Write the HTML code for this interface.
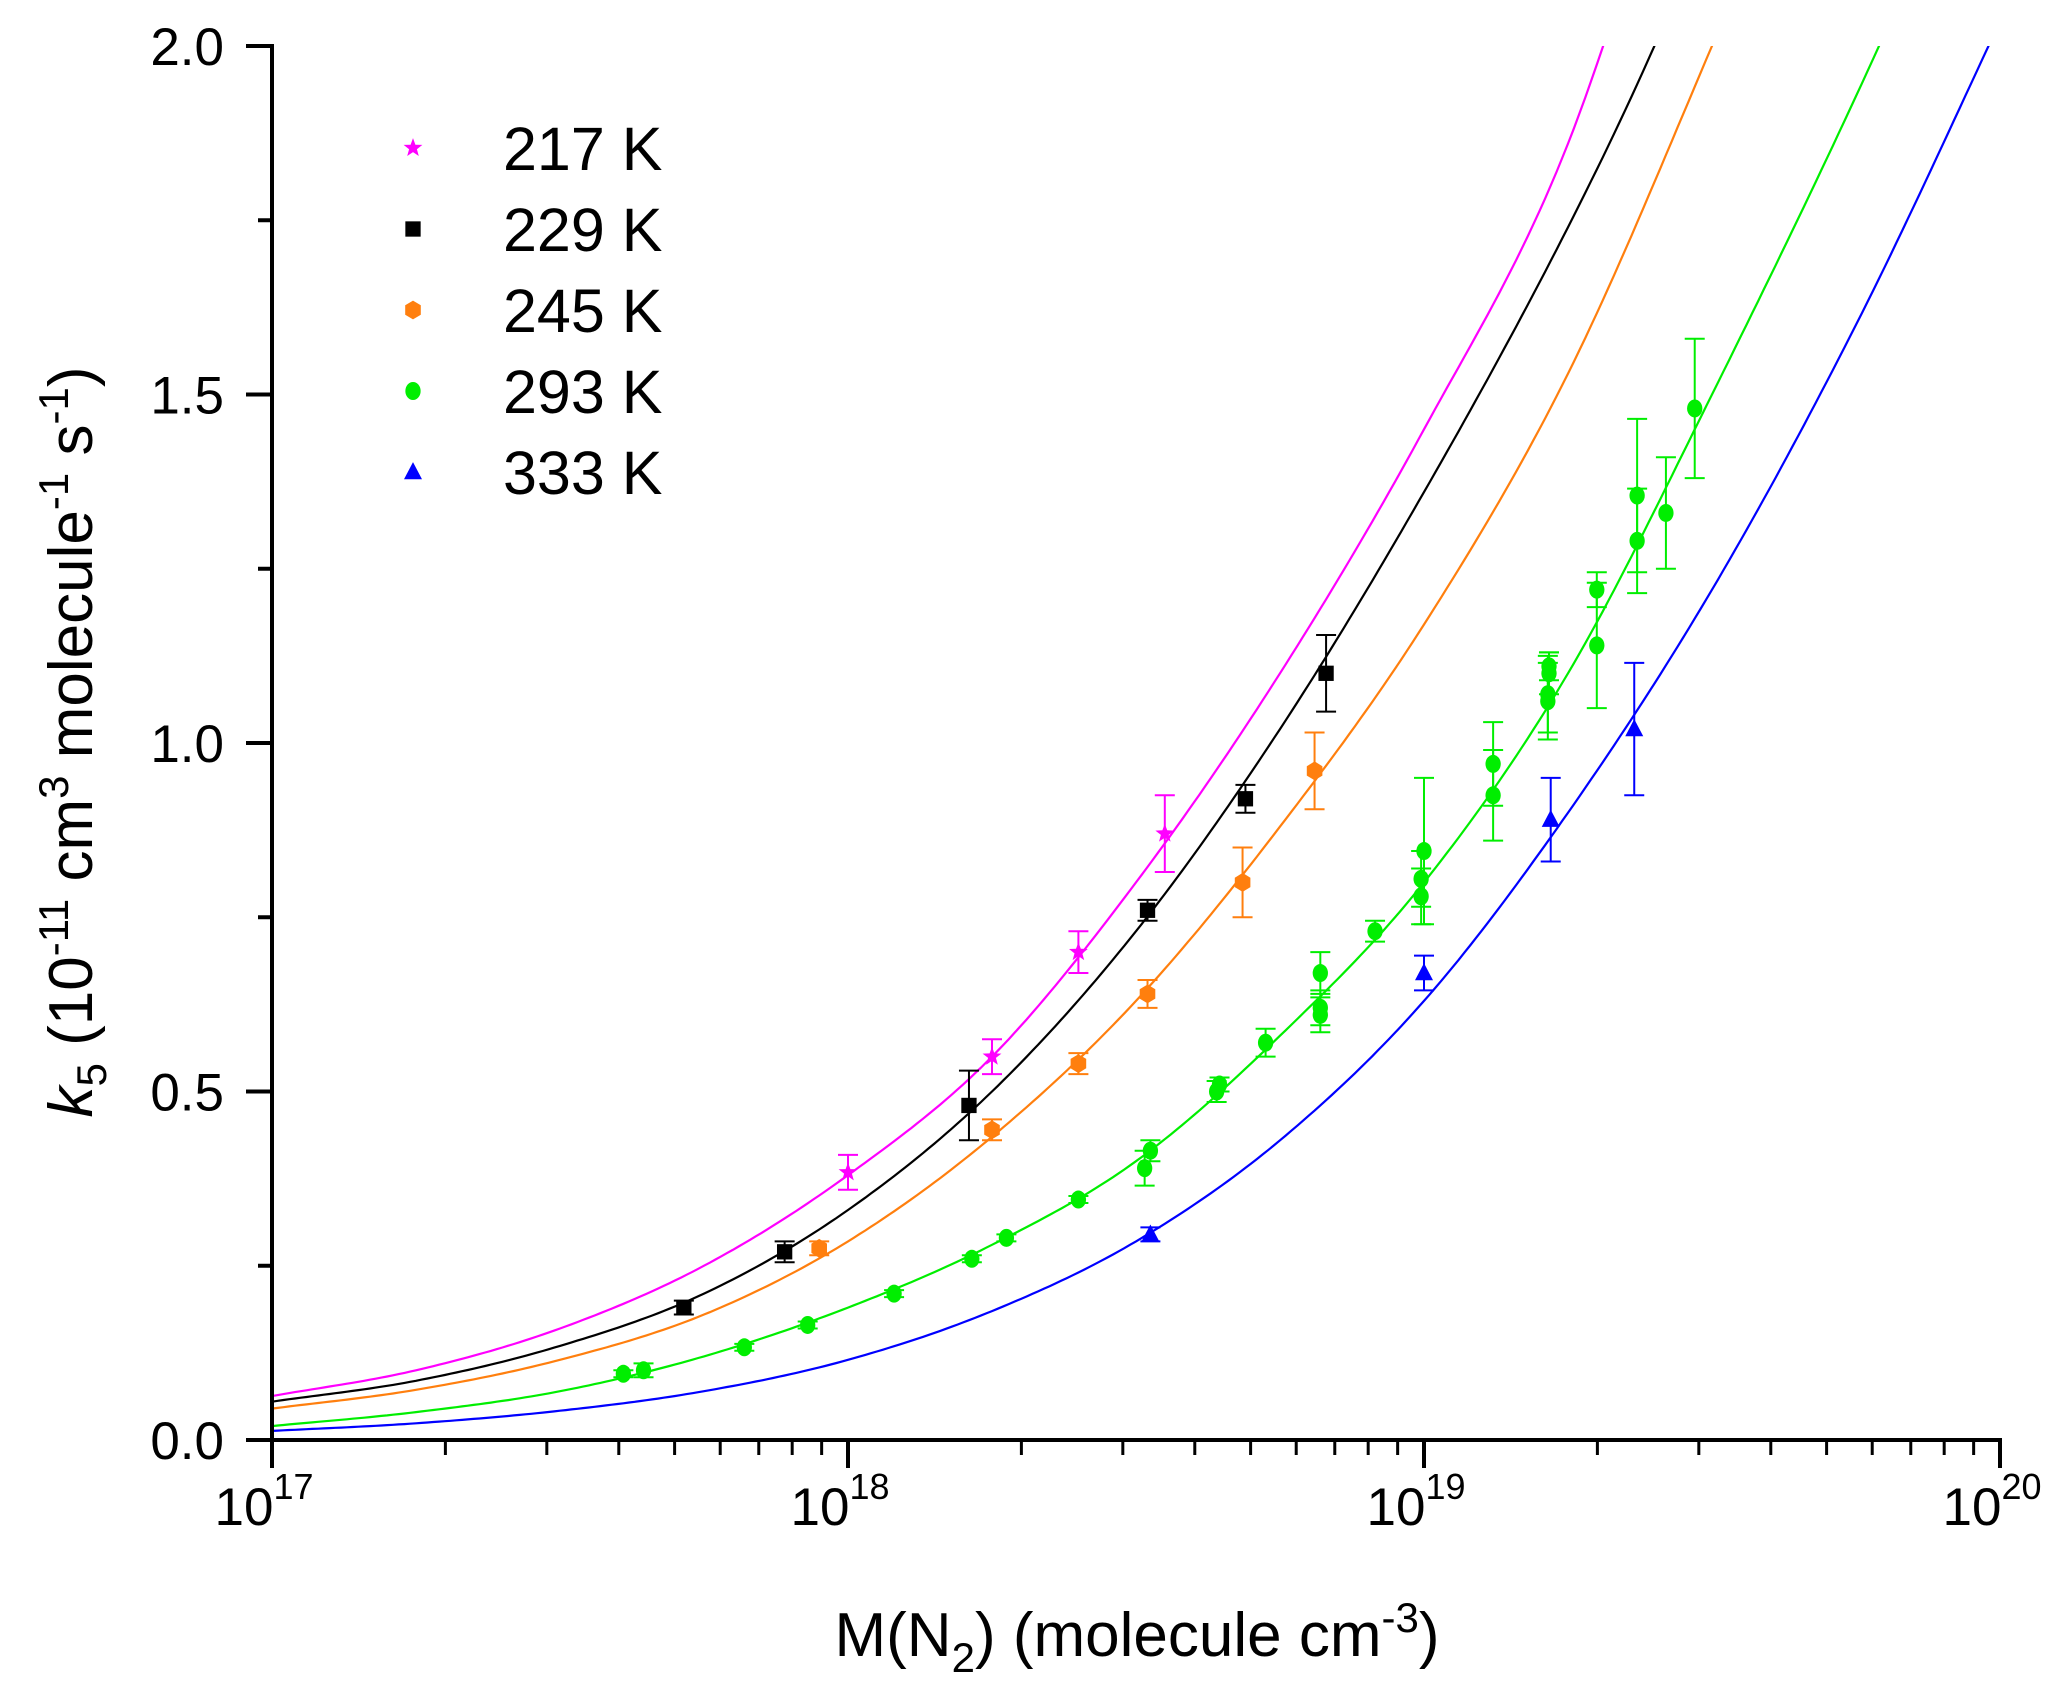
<!DOCTYPE html>
<html><head><meta charset="utf-8"><style>
body{margin:0;background:#fff}
svg text{font-family:"Liberation Sans",Arial,sans-serif;fill:#000}
</style></head><body>
<svg id="chart" width="2067" height="1701" viewBox="0 0 2067 1701" xmlns="http://www.w3.org/2000/svg">
<defs><clipPath id="plotclip"><rect x="272" y="46" width="1730" height="1394"/></clipPath></defs>
<g id="curves" clip-path="url(#plotclip)"></g>
<g id="points"></g>
<g id="axes"></g>
<g id="legend"></g>
<text transform="translate(92,742) rotate(-90)" text-anchor="middle" font-size="62"><tspan font-style="italic">k</tspan><tspan font-size="42" dy="14">5</tspan><tspan dy="-14"> (10</tspan><tspan font-size="42" dy="-24">-11</tspan><tspan dy="24"> cm</tspan><tspan font-size="42" dy="-24">3</tspan><tspan dy="24"> molecule</tspan><tspan font-size="42" dy="-24">-1</tspan><tspan dy="24"> s</tspan><tspan font-size="42" dy="-24">-1</tspan><tspan dy="24">)</tspan></text>
<text x="1137" y="1656" text-anchor="middle" font-size="62">M(N<tspan font-size="42" dy="16">2</tspan><tspan dy="-16">) (molecule cm</tspan><tspan font-size="42" dy="-24">-3</tspan><tspan dy="24">)</tspan></text>
</svg>
<script>
const NS="http://www.w3.org/2000/svg";
const series=["217 K","229 K","245 K","293 K","333 K"];
const colors=["#ff00ff","#000000","#ff7f0e","#00ee00","#0000ff"];
const shapes=["star","square","hexagon","circle","triangle"];
// fit curves (log10 M, k)
const curveLogM=[
[17,17.25,17.5,17.75,18,18.25,18.5,18.75,19,19.25,19.5],
[17,17.25,17.5,17.75,18,18.25,18.5,18.75,19,19.25,19.4,19.6],
[17,17.25,17.5,17.75,18,18.25,18.5,18.75,19,19.25,19.5,19.7],
[17,17.25,17.5,17.75,18,18.25,18.5,18.75,19,19.25,19.5,19.79,20],
[17,17.25,17.5,17.75,18,18.25,18.5,18.75,19,19.25,19.5,19.75,19.98,20.2]];
const curveK=[
[0.063,0.10,0.16,0.25,0.38,0.55,0.80,1.10,1.45,1.86,2.5],
[0.055,0.085,0.135,0.21,0.33,0.50,0.73,1.02,1.36,1.74,2.0,2.4],
[0.045,0.072,0.115,0.18,0.285,0.435,0.63,0.88,1.17,1.53,2.0,2.4],
[0.02,0.04,0.07,0.12,0.19,0.28,0.40,0.58,0.80,1.10,1.50,2.0,2.4],
[0.013,0.024,0.042,0.07,0.115,0.185,0.285,0.43,0.63,0.90,1.22,1.60,2.0,2.4]];
// data (log10 M, k, error)
const dataLogM=[
[18.0,18.25,18.40,18.55],
[17.715,17.89,18.21,18.52,18.69,18.83],
[17.95,18.25,18.40,18.52,18.685,18.81],
[17.61,17.645,17.82,17.93,18.08,18.215,18.275,18.40,18.515,18.525,18.64,18.645,18.725,18.82,18.82,18.82,18.915,18.995,18.995,19.0,19.12,19.12,19.215,19.215,19.217,19.217,19.30,19.30,19.37,19.37,19.42,19.47],
[18.525,19.0,19.22,19.365]];
const dataK=[
[0.384,0.55,0.70,0.87],
[0.19,0.27,0.48,0.76,0.92,1.10],
[0.275,0.445,0.54,0.64,0.80,0.96],
[0.095,0.10,0.133,0.165,0.21,0.26,0.29,0.345,0.39,0.415,0.50,0.51,0.57,0.61,0.62,0.67,0.73,0.78,0.805,0.845,0.925,0.97,1.06,1.07,1.10,1.11,1.14,1.22,1.29,1.355,1.33,1.48],
[0.295,0.67,0.89,1.02]];
const dataErr=[
[0.025,0.025,0.03,0.055],
[0.01,0.015,0.05,0.015,0.02,0.055],
[0.01,0.015,0.015,0.02,0.05,0.055],
[0.005,0.01,0.005,0.005,0.005,0.005,0.005,0.005,0.025,0.015,0.015,0.01,0.02,0.025,0.025,0.03,0.015,0.04,0.04,0.105,0.065,0.06,0.055,0.055,0.03,0.02,0.09,0.025,0.075,0.11,0.08,0.10],
[0.01,0.025,0.06,0.095]];
const xTicks=[17,18,19,20];
const yTicks=[0,0.5,1.0,1.5,2.0];
const yTickLabels=["0.0","0.5","1.0","1.5","2.0"];

const X0=272,X1=2000,Y0=1440,Y1=46;
const xs=l=>X0+(l-17)/3*(X1-X0);
const ys=v=>Y0-v/2*(Y0-Y1);
function el(t,a,p){const e=document.createElementNS(NS,t);for(const k in a)e.setAttribute(k,a[k]);p.appendChild(e);return e;}

function mono(xa,ya){const n=xa.length,d=[],m=[];for(let i=0;i<n-1;i++)d.push((ya[i+1]-ya[i])/(xa[i+1]-xa[i]));
m[0]=d[0];m[n-1]=d[n-2];for(let i=1;i<n-1;i++)m[i]=d[i-1]*d[i]<=0?0:(d[i-1]+d[i])/2;
return x=>{let i=0;while(i<n-2&&x>xa[i+1])i++;const h=xa[i+1]-xa[i],t=(x-xa[i])/h,t2=t*t,t3=t2*t;
return (2*t3-3*t2+1)*ya[i]+(t3-2*t2+t)*h*m[i]+(-2*t3+3*t2)*ya[i+1]+(t3-t2)*h*m[i+1];};}

const cg=document.getElementById('curves');
series.forEach((s,si)=>{const f=mono(curveLogM[si],curveK[si]);const xa=curveLogM[si];let d="";
for(let l=xa[0];l<=xa[xa.length-1]+1e-9;l+=0.01){d+=(d?"L":"M")+xs(l).toFixed(1)+","+ys(f(l)).toFixed(1);}
const p=el('path',{d:d,fill:'none',stroke:colors[si],'stroke-width':2.2},cg);

});

function marker(shape,cx,cy,col,g,r){
 if(shape==="star"){let pts=[];for(let i=0;i<10;i++){const a=-Math.PI/2+i*Math.PI/5,rr=i%2?r*0.45:r*1.1;pts.push((cx+rr*Math.cos(a)).toFixed(1)+","+(cy+rr*Math.sin(a)).toFixed(1));}return el('polygon',{points:pts.join(" "),fill:col},g);}
 if(shape==="square")return el('rect',{x:cx-r*0.85,y:cy-r*0.85,width:r*1.7,height:r*1.7,fill:col},g);
 if(shape==="hexagon"){let pts=[];for(let i=0;i<6;i++){const a=-Math.PI/2+i*Math.PI/3;pts.push((cx+r*Math.cos(a)).toFixed(1)+","+(cy+r*1.05*Math.sin(a)).toFixed(1));}return el('polygon',{points:pts.join(" "),fill:col},g);}
 if(shape==="circle")return el('ellipse',{cx:cx,cy:cy,rx:r*0.85,ry:r,fill:col},g);
 return el('polygon',{points:`${cx},${cy-r*1.1} ${cx+r},${cy+r*0.8} ${cx-r},${cy+r*0.8}`,fill:col},g);
}
const pg=document.getElementById('points');
series.forEach((s,si)=>{dataLogM[si].forEach((l,i)=>{const cx=xs(l),cy=ys(dataK[si][i]),e=dataErr[si][i];
 const g=el('g',{},pg);
 
 
 const t=ys(dataK[si][i]+e),b=ys(dataK[si][i]-e);
 el('line',{x1:cx,y1:t,x2:cx,y2:b,stroke:colors[si],'stroke-width':2},g);
 el('line',{x1:cx-10,y1:t,x2:cx+10,y2:t,stroke:colors[si],'stroke-width':2},g);
 el('line',{x1:cx-10,y1:b,x2:cx+10,y2:b,stroke:colors[si],'stroke-width':2},g);
 marker(shapes[si],cx,cy,colors[si],g,9);});});

const ag=document.getElementById('axes');
el('line',{x1:X0,y1:Y1-2,x2:X0,y2:Y0+2,stroke:'#000','stroke-width':4},ag);
el('line',{x1:X0-2,y1:Y0,x2:X1+2,y2:Y0,stroke:'#000','stroke-width':4},ag);
yTicks.forEach((v,i)=>{el('line',{x1:X0-26,y1:ys(v),x2:X0,y2:ys(v),stroke:'#000','stroke-width':4},ag);
 const t=el('text',{x:X0-48,y:ys(v)+19,'text-anchor':'end','font-size':53},ag);t.textContent=yTickLabels[i];
 
 
 if(i<yTicks.length-1)el('line',{x1:X0-14,y1:ys(v+0.25),x2:X0,y2:ys(v+0.25),stroke:'#000','stroke-width':4},ag);});
xTicks.forEach((d,i)=>{const x=xs(d);el('line',{x1:x,y1:Y0,x2:x,y2:Y0+28,stroke:'#000','stroke-width':4},ag);
 const t=el('text',{x:x-8,y:1525,'text-anchor':'middle','font-size':53},ag);
 
 
 t.innerHTML='10<tspan font-size="36" dy="-26">'+d+'</tspan>';
 if(i<xTicks.length-1)for(let m=2;m<=9;m++){const xm=xs(d+Math.log10(m));el('line',{x1:xm,y1:Y0,x2:xm,y2:Y0+15,stroke:'#000','stroke-width':3},ag);}});

const lg=document.getElementById('legend');
series.forEach((s,si)=>{const y=148+si*81;const g=el('g',{},lg);
 
 
 marker(shapes[si],413,y,colors[si],g,9);
 const t=el('text',{x:503,y:y+22,'font-size':61},g);t.textContent=s;});
</script>
</body></html>
